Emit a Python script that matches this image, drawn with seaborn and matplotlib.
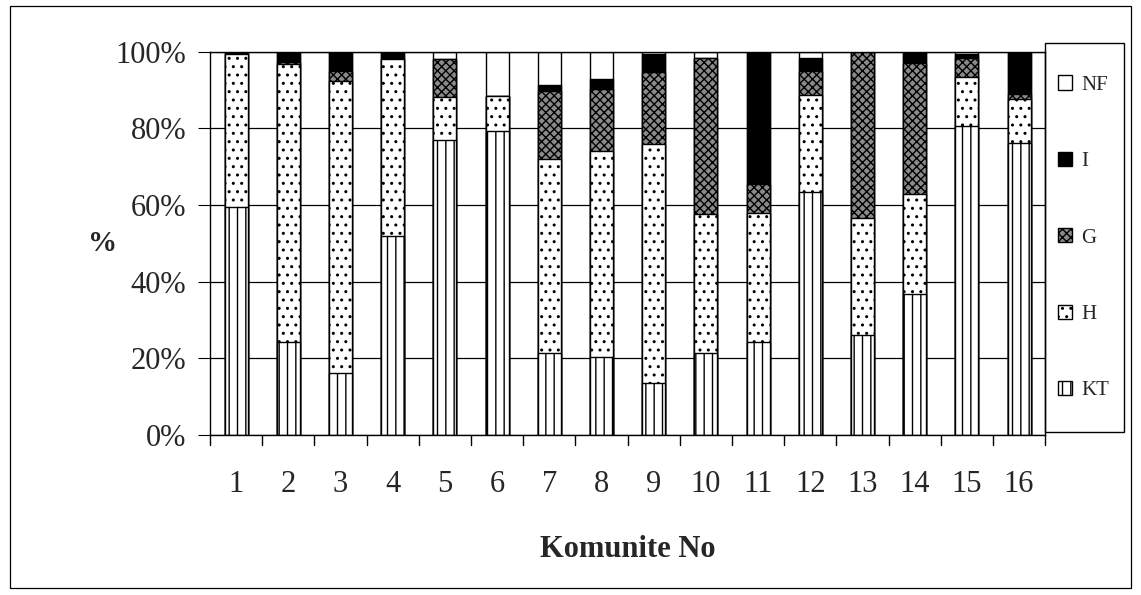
import pandas as pd
import matplotlib
matplotlib.use("Agg")
import matplotlib.pyplot as plt
import matplotlib.patches as mpatches
import seaborn as sns

# community numbers and share of each class (percent)
komunite = [str(i) for i in range(1, 17)]
kt = [59.5, 24.3, 16.2, 52.0, 77.0, 79.4, 21.4, 20.3, 13.5, 21.4, 24.3, 63.4, 26.0, 36.7, 80.5, 76.3]
h = [40.0, 72.5, 76.2, 46.0, 11.3, 9.1, 50.5, 53.7, 62.3, 36.2, 33.6, 25.4, 30.5, 26.3, 13.0, 11.3]
g = [0.0, 0.5, 2.6, 0.5, 9.7, 0.0, 17.8, 16.4, 18.8, 40.9, 7.5, 6.2, 43.5, 34.0, 5.0, 1.4]
i_ = [0.5, 2.7, 5.0, 1.5, 0.0, 0.0, 1.7, 2.5, 4.9, 0.0, 34.6, 3.5, 0.0, 3.0, 1.0, 11.0]
nf = [0.0, 0.0, 0.0, 0.0, 2.0, 11.5, 8.6, 7.1, 0.5, 1.5, 0.0, 1.5, 0.0, 0.0, 0.5, 0.0]

df = pd.DataFrame({"komunite": komunite, "KT": kt, "H": h, "G": g, "I": i_, "NF": nf})
df["c_KT"] = df["KT"]
df["c_H"] = df["c_KT"] + df["H"]
df["c_G"] = df["c_H"] + df["G"]
df["c_I"] = df["c_G"] + df["I"]
df["c_NF"] = df["c_I"] + df["NF"]

sns.set_style("white")
plt.rcParams["font.family"] = ["Liberation Serif", "DejaVu Serif"]
plt.rcParams["hatch.linewidth"] = 1.0

fig = plt.figure(figsize=(11.41, 5.95), dpi=100)
ax = fig.add_axes([0.184, 0.269, 0.732, 0.644])

# layered bars, tallest first (classic seaborn stacked bar)
layers = [
    ("c_NF", "NF", "white", ""),
    ("c_I", "I", "black", ""),
    ("c_G", "G", "#8a8a8a", "xxxx"),
    ("c_H", "H", "white", ".."),
    ("c_KT", "KT", "white", "||"),
]
handles = []
for col, lab, fc, hatch in layers:
    sns.barplot(data=df, x="komunite", y=col, color=fc, saturation=1,
                width=0.44, edgecolor="black", linewidth=1.0, hatch=hatch,
                errorbar=None, ax=ax)
    handles.append(mpatches.Patch(facecolor=fc, edgecolor="black", hatch=hatch, label=lab))

ax.set_ylim(0, 100)
ax.set_xlim(-0.5, 15.5)
ax.set_yticks([0, 20, 40, 60, 80, 100])
ax.set_yticklabels([f"{v}%" for v in [0, 20, 40, 60, 80, 100]], fontsize=22)
ax.set_xticks(range(16))
ax.set_xticklabels(komunite, fontsize=22)
ax.tick_params(axis="x", length=0, pad=25)
ax.tick_params(axis="y", length=9, direction="out", color="black", left=True, pad=8)
for xb in [k + 0.5 for k in range(-1, 16)]:
    ax.plot([xb, xb], [0, -2.5], color="black", lw=1, clip_on=False)
ax.yaxis.grid(True, color="black", lw=0.9)
ax.set_axisbelow(True)
for s in ax.spines.values():
    s.set_color("black")
    s.set_linewidth(1.0)

ax.set_xlabel("Komunite No", fontsize=22, fontweight="bold", labelpad=26)
ax.set_ylabel("%", fontsize=21, fontweight="bold", rotation=0, labelpad=0, va="center")
ax.yaxis.set_label_coords(-0.128, 0.5)

leg = fig.legend(handles=handles, loc="center left",
                 bbox_to_anchor=(1058 / 1141, 1 - 238 / 595),
                 frameon=False, fontsize=15, labelspacing=2.74, handlelength=0.66,
                 handleheight=0.66, handletextpad=0.45, borderpad=0,
                 borderaxespad=0)

# legend box and outer chart border
fig.patches.append(mpatches.Rectangle((1045 / 1141, 1 - 432 / 595), 79 / 1141, 389 / 595,
                                      transform=fig.transFigure, fill=False,
                                      edgecolor="black", lw=1.0))
fig.patches.append(mpatches.Rectangle((10 / 1141, 1 - 588 / 595), 1121 / 1141, 582 / 595,
                                      transform=fig.transFigure, fill=False,
                                      edgecolor="black", lw=0.9))

fig.savefig("out.png", dpi=100)
